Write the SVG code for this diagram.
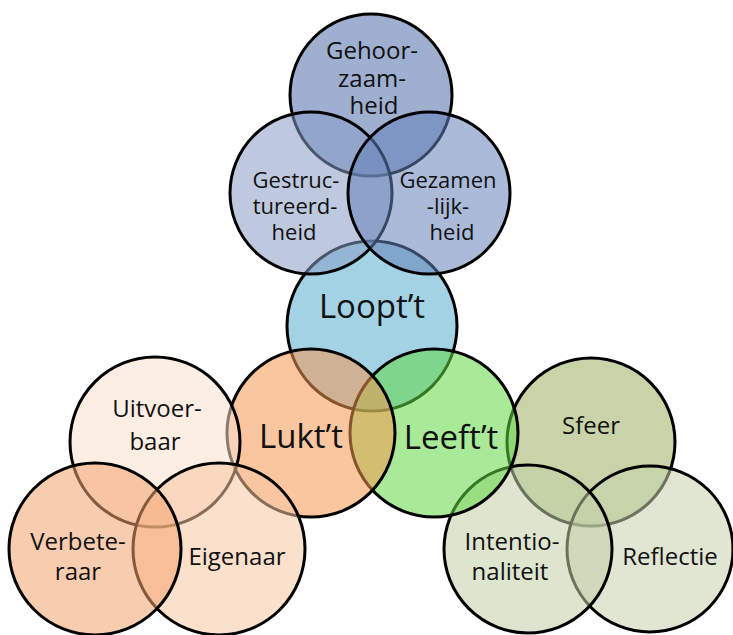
<svg xmlns="http://www.w3.org/2000/svg" width="733" height="635" viewBox="0 0 733 635">
<style>
  .c { stroke: #000; stroke-width: 3; fill-opacity: 0.55; }
  .t { font-family: "Open Sans", "Noto Sans", "DejaVu Sans", sans-serif; font-size: 24px; fill: #111; text-anchor: middle; }
  .s { font-size: 22px; }
  .big { font-size: 33px; }
</style>
<rect width="733" height="635" fill="#fff"/>
<g id="connectors"></g>
<g id="loopt">
  <circle class="c" cx="372" cy="326" r="85" fill="#58adce"/>
  <text class="t big" x="372" y="318">Loopt’t</text>
</g>
<g id="gehoorzaamheid">
  <circle class="c" cx="371" cy="95" r="81" fill="#4f6daa"/>
  <text class="t"><tspan x="372" y="59">Gehoor-</tspan><tspan x="372" y="87">zaam-</tspan><tspan x="374" y="114">heid</tspan></text>
</g>
<g id="gestructureerdheid">
  <circle class="c" cx="311" cy="193" r="81" fill="#899dc7"/>
  <text class="t s"><tspan x="296" y="188">Gestruc-</tspan><tspan x="295" y="214">tureerd-</tspan><tspan x="294" y="240">heid</tspan></text>
</g>
<g id="gezamenlijkheid">
  <circle class="c" cx="429" cy="193" r="81" fill="#6482b8"/>
  <text class="t s"><tspan x="448" y="188">Gezamen</tspan><tspan x="448" y="214">-lijk-</tspan><tspan x="452" y="240">heid</tspan></text>
</g>
<g id="sfeer">
  <circle class="c" cx="591" cy="442" r="84" fill="#9bb161"/>
  <text class="t" x="591" y="434">Sfeer</text>
</g>
<g id="reflectie">
  <circle class="c" cx="650" cy="549" r="83" fill="#c7d1ad"/>
  <text class="t" x="670" y="565">Reflectie</text>
</g>
<g id="intentionaliteit">
  <circle class="c" cx="528" cy="549" r="84" fill="#c3d0a8"/>
  <text class="t"><tspan x="512" y="550">Intentio-</tspan><tspan x="510" y="580">naliteit</tspan></text>
</g>
<g id="leeft">
  <circle class="c" cx="434" cy="433" r="84" fill="#61d944"/>
  <text class="t big" x="451" y="449">Leeft’t</text>
</g>
<g id="lukt">
  <circle class="c" cx="311" cy="433" r="84" fill="#f49752"/>
  <text class="t big" x="301" y="448">Lukt’t</text>
</g>
<g id="uitvoerbaar">
  <circle class="c" cx="155" cy="442" r="85" fill="#fbe0ce"/>
  <text class="t"><tspan x="157" y="417">Uitvoer-</tspan><tspan x="155" y="450">baar</tspan></text>
</g>
<g id="eigenaar">
  <circle class="c" cx="219" cy="549" r="86" fill="#f8c7a2"/>
  <text class="t" x="237" y="565">Eigenaar</text>
</g>
<g id="verbeteraar">
  <circle class="c" cx="95" cy="549" r="86" fill="#f2a46d"/>
  <text class="t"><tspan x="78" y="550">Verbete-</tspan><tspan x="78" y="580">raar</tspan></text>
</g>
</svg>
